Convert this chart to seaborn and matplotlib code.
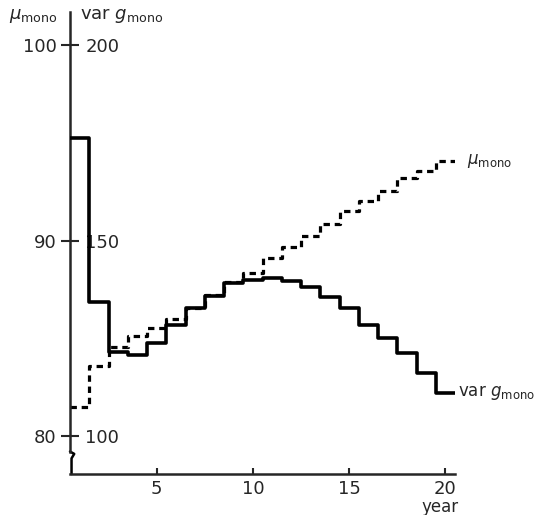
import matplotlib
matplotlib.use("Agg")
import matplotlib.pyplot as plt
import matplotlib.transforms as mtransforms
import seaborn as sns
import numpy as np

# step values, one per year
years = [1, 2, 3, 4, 5, 6, 7, 8, 9, 10, 11, 12, 13, 14, 15, 16, 17, 18, 19, 20]
mu_mono = [81.5, 83.6, 84.55, 85.1, 85.5, 86.0, 86.55, 87.2, 87.9, 88.35,
           89.1, 89.65, 90.25, 90.85, 91.5, 92.05, 92.55, 93.2, 93.55, 94.05]
var_g_mono = [176.2, 134.4, 121.5, 120.8, 123.8, 128.5, 132.8, 135.9, 139.2, 140.0,
              140.5, 139.7, 138.2, 135.6, 132.8, 128.5, 125.1, 121.3, 116.2, 111.0]

mu_ticks = [80, 90, 100]
var_ticks = [100, 150, 200]
x_ticks = [5, 10, 15, 20]

mu_lim = (78.05, 101.7)
var_lim = tuple(100 + 5 * (m - 80) for m in mu_lim)

sns.set_style("ticks")
plt.rcParams['font.family'] = ['DejaVu Sans']
plt.rcParams['mathtext.fontset'] = 'dejavusans'

fig = plt.figure(figsize=(5.54, 5.15), dpi=100)
ax = fig.add_axes([70 / 554, 41 / 515, 385 / 554, 462 / 515])
ax2 = ax.twinx()

# each year drawn as a stair from year-0.5 to year+0.5
yrs = np.array(years, dtype=float)
edges = np.append(yrs - 0.5, yrs[-1] + 0.5)
mu_steps = np.append(mu_mono, mu_mono[-1])
var_steps = np.append(var_g_mono, var_g_mono[-1])

sns.lineplot(x=edges, y=mu_steps, ax=ax, drawstyle='steps-post', color='black',
             linewidth=2.3, linestyle=(0, (2.0, 1.5)))
sns.lineplot(x=edges, y=var_steps, ax=ax2, drawstyle='steps-post', color='black',
             linewidth=2.6)

ax.set_xlim(0.5, 20.5)
ax.set_ylim(*mu_lim)
ax2.set_ylim(*var_lim)

ax.set_xticks(x_ticks)
ax.set_yticks(mu_ticks)
ax2.set_yticks(var_ticks)

for s in ['top', 'right']:
    ax.spines[s].set_visible(False)
for s in ['top', 'right', 'left', 'bottom']:
    ax2.spines[s].set_visible(False)
ax.spines['left'].set_linewidth(1.8)
ax.spines['bottom'].set_linewidth(1.8)

# axis break on the vertical axis
ax.spines['left'].set_bounds(79.2, mu_lim[1])
brk = mtransforms.blended_transform_factory(ax.transAxes, ax.transData)
ax.plot([0, 0.011, 0.004, 0.004], [79.2, 79.08, 78.85, mu_lim[0]],
        color='black', linewidth=1.8, transform=brk, clip_on=False)

ax.tick_params(axis='y', direction='inout', length=13, width=1.5, pad=3,
               labelsize=13)
ax.tick_params(axis='x', direction='in', length=4.5, width=1.5, pad=4,
               labelsize=13)
ax2.yaxis.set_ticks_position('right')
ax2.spines['right'].set_position(('axes', 0))
ax2.tick_params(axis='y', length=0, pad=11, labelsize=13)

ax.set_xlabel('year', fontsize=12)
ax.xaxis.set_label_coords(0.961, -0.052)
ax.set_ylabel('')
ax2.set_ylabel('')

# axis headers
ax.text(-0.033, 0.985, r'$\mu_{\mathrm{mono}}$', transform=ax.transAxes,
        ha='right', va='baseline', fontsize=13)
ax.text(0.027, 0.985, r'var $g_{\mathrm{mono}}$', transform=ax.transAxes,
        ha='left', va='baseline', fontsize=13)

# curve labels at the right end
ax.text(21.1, mu_mono[-1], r'$\mu_{\mathrm{mono}}$', ha='left', va='center',
        fontsize=12)
ax2.text(20.65, var_g_mono[-1], r'var $g_{\mathrm{mono}}$', ha='left',
         va='center', fontsize=12)

# var labels sit on a white patch so the curve breaks around them
fig.canvas.draw()
for tick in ax2.yaxis.get_major_ticks():
    tick.label2.set_bbox(dict(facecolor='white', edgecolor='none', pad=1.5))

fig.savefig('out.png', dpi=100)
